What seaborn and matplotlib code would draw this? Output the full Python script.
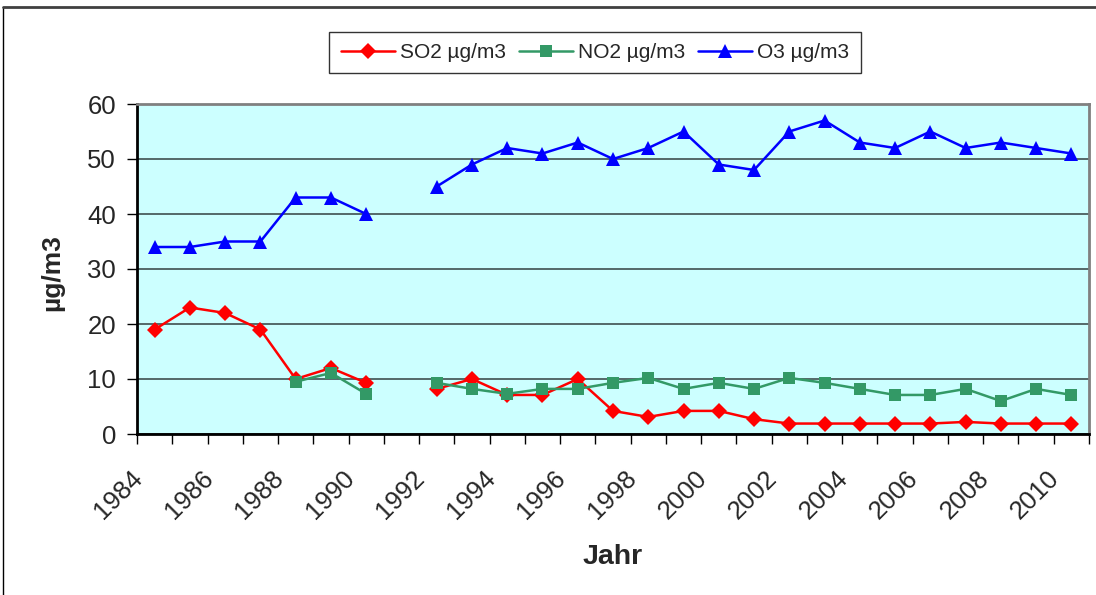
import matplotlib
matplotlib.use("Agg")
import matplotlib.pyplot as plt
import pandas as pd
import seaborn as sns
from matplotlib.lines import Line2D

years = list(range(1984, 2011))
so2 = [19, 23, 22, 19, 10, 12, 9.3, None, 8.2, 10, 7.1, 7.1, 10, 4.2, 3.1, 4.2,
       4.2, 2.7, 1.9, 1.9, 1.9, 1.9, 1.9, 2.2, 1.9, 1.9, 1.9]
no2 = [None, None, None, None, 9.5, 11.1, 7.3, None, 9.3, 8.2, 7.3, 8.2, 8.2, 9.3,
       10.2, 8.2, 9.3, 8.2, 10.2, 9.3, 8.2, 7.1, 7.1, 8.2, 6.0, 8.2, 7.1]
o3 = [34, 34, 35, 35, 43, 43, 40, None, 45, 49, 52, 51, 53, 50, 52, 55, 49, 48,
      55, 57, 53, 52, 55, 52, 53, 52, 51]

series_names = ["SO2 µg/m3", "NO2 µg/m3", "O3 µg/m3"]
series_values = [so2, no2, o3]
colors = {"SO2 µg/m3": "#FF0000", "NO2 µg/m3": "#339966", "O3 µg/m3": "#0000FF"}
markers = {"SO2 µg/m3": "D", "NO2 µg/m3": "s", "O3 µg/m3": "^"}
marker_sizes = {"SO2 µg/m3": 7.8, "NO2 µg/m3": 8.5, "O3 µg/m3": 9.5}

# long table; consecutive non-missing runs get their own unit so gaps stay open
rows = []
for name, vals in zip(series_names, series_values):
    seg = 0
    for i, (yr, v) in enumerate(zip(years, vals)):
        if v is None:
            seg += 1
            continue
        rows.append({"pos": i, "year": yr, "value": v, "series": name,
                     "seg": f"{name}-{seg}"})
df = pd.DataFrame(rows)

sns.set_style("white")
plt.rcParams["font.family"] = ["Liberation Sans", "DejaVu Sans"]

fig = plt.figure(figsize=(10.96, 5.95), dpi=100)
ax = fig.add_axes([137 / 1096, 1 - 434 / 595, (1089 - 137) / 1096, (434 - 104) / 595])
ax.set_facecolor("#CCFFFF")

for name in series_names:
    sub = df[df["series"] == name]
    sns.lineplot(data=sub, x="pos", y="value", units="seg", estimator=None,
                 color=colors[name], marker=markers[name],
                 markersize=marker_sizes[name], markeredgewidth=0,
                 linewidth=1.8, ax=ax, legend=False, zorder=3)

ax.set_xlim(-0.5, len(years) - 0.5)
ax.set_ylim(0, 60)
ax.set_yticks(range(0, 61, 10))
ax.yaxis.grid(True, color="#3F4F4F", linewidth=1.2)
ax.set_axisbelow(True)

# tick marks on category boundaries; rotated labels on every second category,
# their right ends sitting a little left of the category centre
ax.set_xticks([i - 0.5 for i in range(len(years) + 1)])
ax.set_xticklabels([])
label_offset = 0.45
ax.set_xticks([i - label_offset for i in range(0, len(years), 2)], minor=True)
ax.set_xticklabels([str(y) for y in years[::2]], minor=True, rotation=45,
                   ha="right", va="center", rotation_mode="anchor", fontsize=18.5)
ax.tick_params(axis="x", which="major", length=7, width=1, color="black",
               direction="out", bottom=True)
ax.tick_params(axis="x", which="minor", length=0, pad=29, bottom=True)
ax.tick_params(axis="y", length=7, width=1, color="black", direction="out",
               left=True, labelsize=18.5, pad=8)

for side in ["left", "bottom"]:
    ax.spines[side].set_color("black")
    ax.spines[side].set_linewidth(2)
for side in ["right", "top"]:
    ax.spines[side].set_color("#808080")
    ax.spines[side].set_linewidth(2)

ax.set_xlabel("Jahr", fontsize=20.5, fontweight="bold")
ax.xaxis.label.set_va("center")
ax.xaxis.set_label_coords(0.5, (434 - 557) / 330)
ax.set_ylabel("µg/m3", fontsize=19, fontweight="bold")
ax.yaxis.label.set_va("center")
ax.yaxis.set_label_coords((52 - 137) / 952, 0.49)

handles = [Line2D([], [], color=colors[n], marker=markers[n],
                  markersize=marker_sizes[n], markeredgewidth=0, linewidth=1.8)
           for n in series_names]
leg = fig.legend(handles, series_names, loc="center", ncol=3,
                 bbox_to_anchor=(595 / 1096, 1 - 52.5 / 595), fontsize=15,
                 frameon=True, fancybox=False, handlelength=2.6,
                 handletextpad=0.25, columnspacing=0.6, borderpad=0.55,
                 borderaxespad=0)
leg.get_frame().set_edgecolor("black")
leg.get_frame().set_linewidth(1)

# outer chart frame
fig.add_artist(Line2D([3 / 1096, 3 / 1096], [0, 1 - 7 / 595], color="black",
                      linewidth=1, transform=fig.transFigure))
fig.add_artist(Line2D([3 / 1096, 1], [1 - 7 / 595, 1 - 7 / 595], color="#404040",
                      linewidth=2, transform=fig.transFigure))

fig.savefig("out.png", dpi=100)
